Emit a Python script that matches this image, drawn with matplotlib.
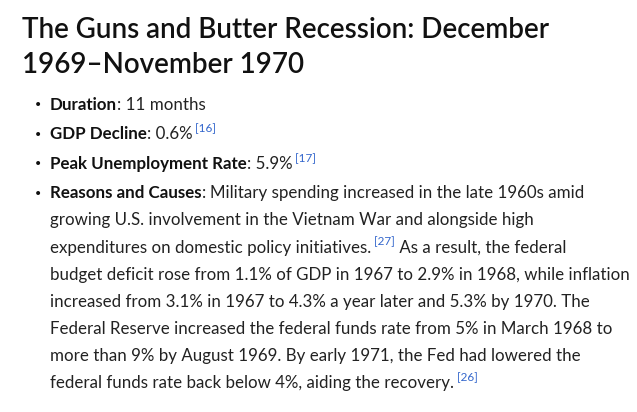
import matplotlib
matplotlib.use("Agg")
import matplotlib.pyplot as plt

W, H = 637, 412

title_lines = ["The Guns and Butter Recession: December", "1969\u2013November 1970"]

short_labels = ["Duration", "GDP Decline", "Peak Unemployment Rate"]
short_values = ["11 months", "0.6%", "5.9%"]
short_refs = [None, "[16]", "[17]"]

reason_label = "Reasons and Causes"
reason_lines = [
    [("Military spending increased in the late 1960s amid", None)],
    [("growing U.S. involvement in the Vietnam War and alongside high", None)],
    [("expenditures on domestic policy initiatives.", "[27]"), (" As a result, the federal", None)],
    [("budget deficit rose from 1.1% of GDP in 1967 to 2.9% in 1968, while inflation", None)],
    [("increased from 3.1% in 1967 to 4.3% a year later and 5.3% by 1970. The", None)],
    [("Federal Reserve increased the federal funds rate from 5% in March 1968 to", None)],
    [("more than 9% by August 1969. By early 1971, the Fed had lowered the", None)],
    [("federal funds rate back below 4%, aiding the recovery.", "[26]")],
]

TITLE_FONT = "Lato"
BODY_FONT = "Lato"
TITLE_SIZE = 20
BODY_SIZE = 12.2
REF_SIZE = 8.5
TEXT_COLOR = "#222222"
LABEL_COLOR = "#111111"
LINK_COLOR = "#3366cc"

fig = plt.figure(figsize=(W / 100, H / 100), dpi=100)
fig.patch.set_facecolor("white")
renderer = fig.canvas.get_renderer()


def put(x, y, s, **kw):
    t = fig.text(x / W, 1 - y / H, s, ha="left", va="baseline", **kw)
    return x + t.get_window_extent(renderer).width


def body(x, y, s, bold=False):
    return put(x, y, s, family=BODY_FONT, fontsize=BODY_SIZE,
               fontweight="bold" if bold else "normal",
               color=LABEL_COLOR if bold else TEXT_COLOR)


def ref(x, y, s):
    return put(x, y - 7, " " + s, family=BODY_FONT, fontsize=REF_SIZE, color=LINK_COLOR)


def bullet(y):
    fig.text(38.5 / W, 1 - (y - 4.5) / H, "\u2022", ha="center", va="center",
             family="DejaVu Sans", fontsize=10, color=LABEL_COLOR)


# title
for i, line in enumerate(title_lines):
    put(22, 37.5 + i * 35.8, line, family=TITLE_FONT, fontsize=TITLE_SIZE,
        fontweight="semibold", color=LABEL_COLOR)

# short bullets
x0 = 50
for i, (lab, val, r) in enumerate(zip(short_labels, short_values, short_refs)):
    y = 110 + i * 29.3
    bullet(y)
    x = body(x0, y, lab, bold=True)
    x = body(x, y, ": " + val)
    if r:
        ref(x, y, r)

# reasons paragraph
y = 198.3
bullet(y)
for j, runs in enumerate(reason_lines):
    yy = y + j * 27.1
    x = x0
    if j == 0:
        x = body(x, yy, reason_label, bold=True)
        x = body(x, yy, ": ")
    for txt, r in runs:
        x = body(x, yy, txt)
        if r:
            x = ref(x, yy, r)

fig.savefig("out.png", dpi=100, facecolor="white")
